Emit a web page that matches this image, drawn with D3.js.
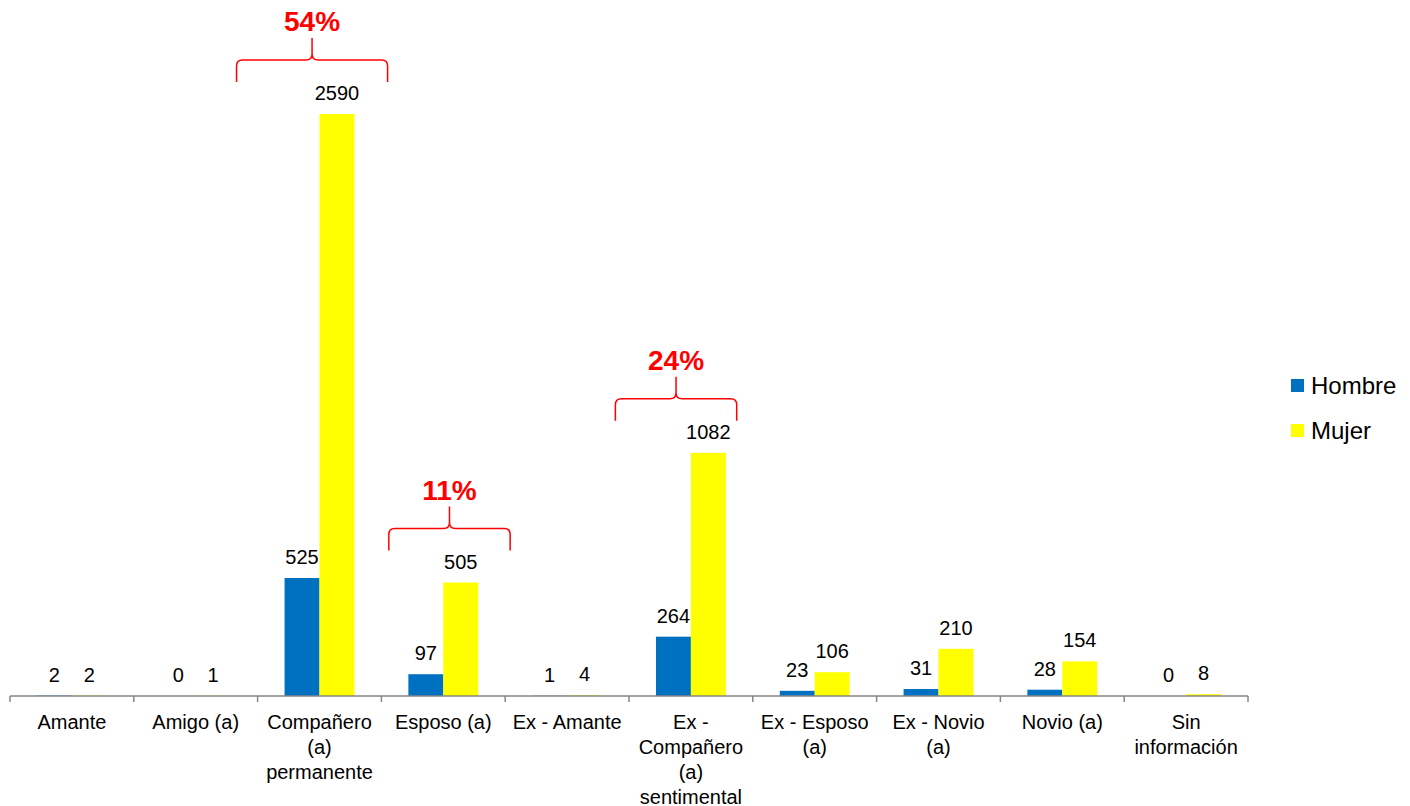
<!DOCTYPE html>
<html>
<head>
<meta charset="utf-8">
<script src="https://cdn.jsdelivr.net/npm/d3@7"></script>
<style>
  body { margin: 0; background: #fff; }
  svg { font-family: "Liberation Sans", Arial, sans-serif; }
</style>
</head>
<body>
<svg id="chart" width="1410" height="806"></svg>
<script>
// categories and series values
var categories = ["Amante", "Amigo (a)", "Compañero (a) permanente", "Esposo (a)", "Ex - Amante",
  "Ex - Compañero (a) sentimental", "Ex - Esposo (a)", "Ex - Novio (a)", "Novio (a)", "Sin información"];
var categoryLines = [["Amante"], ["Amigo (a)"], ["Compañero", "(a)", "permanente"], ["Esposo (a)"], ["Ex - Amante"],
  ["Ex -", "Compañero", "(a)", "sentimental"], ["Ex - Esposo", "(a)"], ["Ex - Novio", "(a)"], ["Novio (a)"], ["Sin", "información"]];
var hombre = [2, 0, 525, 97, 1, 264, 23, 31, 28, 0];
var mujer = [2, 1, 2590, 505, 4, 1082, 106, 210, 154, 8];
var seriesNames = ["Hombre", "Mujer"];
var colors = ["#0070C0", "#FFFF00"];

// brace annotations: category, label, shift of brace centre (fraction of band)
var braceCats = ["Compañero (a) permanente", "Esposo (a)", "Ex - Compañero (a) sentimental"];
var braceLabels = ["54%", "11%", "24%"];
var braceShift = [-0.06, 0.05, -0.12];
var braceWidth = [1.22, 0.98, 0.98];

var svg = d3.select("#chart");
var plotLeft = 10, plotRight = 1248, baseline = 696, plotTop = 114;

var x = d3.scaleBand().domain(categories).range([plotLeft, plotRight]).padding(0);
var y = d3.scaleLinear().domain([0, 2590]).range([baseline, plotTop]);
var inner = d3.scaleBand().domain(seriesNames).range([0, x.bandwidth()]).paddingInner(0).paddingOuter(0.772);

var rows = categories.map(function(c, i) { return { cat: c, vals: [hombre[i], mujer[i]] }; });

var groups = svg.selectAll(".grp").data(rows).enter().append("g")
  .attr("transform", function(d) { return "translate(" + x(d.cat) + ",0)"; });

groups.selectAll("rect").data(function(d) { return d.vals.map(function(v, j) { return { v: v, j: j }; }); })
  .enter().append("rect")
  .attr("x", function(d) { return inner(seriesNames[d.j]); })
  .attr("width", inner.bandwidth())
  .attr("y", function(d) { return y(d.v); })
  .attr("height", function(d) { return baseline - y(d.v); })
  .attr("fill", function(d) { return colors[d.j]; });

groups.selectAll("text.val").data(function(d) { return d.vals.map(function(v, j) { return { v: v, j: j }; }); })
  .enter().append("text")
  .attr("class", "val")
  .attr("x", function(d) { return inner(seriesNames[d.j]) + inner.bandwidth() / 2; })
  .attr("y", function(d) { return y(d.v) - 14; })
  .attr("text-anchor", "middle")
  .attr("font-size", 20)
  .attr("fill", "#000")
  .text(function(d) { return d.v; });

// axis
var axis = svg.append("g").attr("transform", "translate(0," + baseline + ")");
axis.append("line").attr("x1", plotLeft).attr("x2", plotRight).attr("y1", 0).attr("y2", 0)
  .attr("stroke", "#868686").attr("stroke-width", 1.5);
var tickPos = categories.map(function(c) { return x(c); }).concat([plotRight]);
axis.selectAll("line.tick").data(tickPos).enter().append("line")
  .attr("x1", function(d) { return d; }).attr("x2", function(d) { return d; })
  .attr("y1", 0).attr("y2", 6).attr("stroke", "#868686").attr("stroke-width", 1.5);

var labels = svg.selectAll(".catlab").data(categories).enter().append("text")
  .attr("text-anchor", "middle")
  .attr("font-size", 20)
  .attr("fill", "#000")
  .attr("transform", function(d) { return "translate(" + (x(d) + x.bandwidth() / 2) + "," + (baseline + 33) + ")"; });
labels.selectAll("tspan").data(function(d, i) { return categoryLines[i]; }).enter().append("tspan")
  .attr("x", 0).attr("dy", function(d, i) { return i === 0 ? 0 : 25; })
  .text(function(d) { return d; });

// braces
braceCats.forEach(function(c, i) {
  var idx = categories.indexOf(c);
  var peak = y(mujer[idx]);
  var cx = x(c) + x.bandwidth() / 2 + braceShift[i] * x.bandwidth();
  var hw = braceWidth[i] * x.bandwidth() / 2;
  var yBottom = peak - 32, yLine = peak - 54, yTop = peak - 76, r = 6;
  var p = d3.path();
  p.moveTo(cx - hw, yBottom);
  p.lineTo(cx - hw, yLine + r);
  p.quadraticCurveTo(cx - hw, yLine, cx - hw + r, yLine);
  p.lineTo(cx - r, yLine);
  p.quadraticCurveTo(cx, yLine, cx, yLine - r);
  p.lineTo(cx, yTop);
  p.moveTo(cx, yLine - r);
  p.quadraticCurveTo(cx, yLine, cx + r, yLine);
  p.lineTo(cx + hw - r, yLine);
  p.quadraticCurveTo(cx + hw, yLine, cx + hw, yLine + r);
  p.lineTo(cx + hw, yBottom);
  svg.append("path").attr("d", p.toString()).attr("fill", "none")
    .attr("stroke", "#FF0000").attr("stroke-width", 1.5);
  svg.append("text").attr("x", cx).attr("y", yTop - 7)
    .attr("text-anchor", "middle").attr("font-size", 28).attr("font-weight", "bold")
    .attr("fill", "#FF0000").text(braceLabels[i]);
});

// legend
var legend = svg.selectAll(".leg").data(seriesNames).enter().append("g")
  .attr("transform", function(d, i) { return "translate(1291," + (379 + i * 45) + ")"; });
legend.append("rect").attr("width", 13).attr("height", 13)
  .attr("fill", function(d, i) { return colors[i]; });
legend.append("text").attr("x", 20).attr("y", 15).attr("font-size", 24)
  .attr("fill", "#000").text(function(d) { return d; });
</script>
</body>
</html>
